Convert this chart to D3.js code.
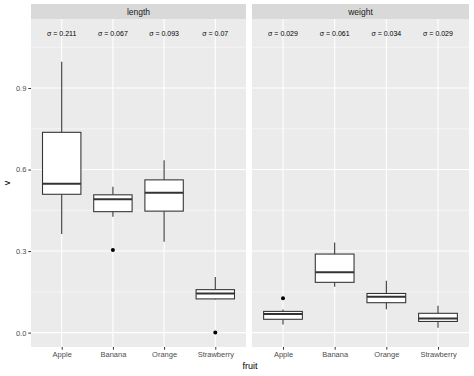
<!DOCTYPE html>
<html>
<head>
<meta charset="utf-8">
<script src="https://cdn.jsdelivr.net/npm/d3@7"></script>
<style>
  body { margin: 0; background: #fff; }
  text { font-family: "Liberation Sans", Arial, sans-serif; }
</style>
</head>
<body>
<div id="chart"></div>
<script>
// data
const fruits = ['Apple', 'Banana', 'Orange', 'Strawberry'];
const variables = ['length', 'weight'];

// length: [whisker low, q1, median, q3, whisker high]
const lengthLow    = [0.363, 0.426, 0.334, 0.122];
const lengthQ1     = [0.509, 0.445, 0.447, 0.124];
const lengthMedian = [0.548, 0.491, 0.515, 0.144];
const lengthQ3     = [0.737, 0.507, 0.562, 0.158];
const lengthHigh   = [0.997, 0.537, 0.634, 0.205];
const lengthOutliers = [['Banana', 0.304], ['Strawberry', 0.0]];
const lengthSigma  = ['0.211', '0.067', '0.093', '0.07'];

const weightLow    = [0.030, 0.169, 0.086, 0.018];
const weightQ1     = [0.049, 0.185, 0.110, 0.041];
const weightMedian = [0.068, 0.222, 0.132, 0.052];
const weightQ3     = [0.078, 0.289, 0.144, 0.071];
const weightHigh   = [0.085, 0.332, 0.191, 0.099];
const weightOutliers = [['Apple', 0.126]];
const weightSigma  = ['0.029', '0.061', '0.034', '0.029'];

const yTicks = [0.0, 0.3, 0.6, 0.9];
const yMinor = [0.15, 0.45, 0.75, 1.05];
const sigmaY = 1.1;

const W = 474, H = 376;
const panelTop = 19, panelBottom = 347, stripTop = 4;
const panels = [
  { name: 'length', x0: 31, x1: 246, low: lengthLow, q1: lengthQ1, med: lengthMedian, q3: lengthQ3, high: lengthHigh, out: lengthOutliers, sigma: lengthSigma },
  { name: 'weight', x0: 252, x1: 469, low: weightLow, q1: weightQ1, med: weightMedian, q3: weightQ3, high: weightHigh, out: weightOutliers, sigma: weightSigma }
];

const svg = d3.select('#chart')
  .append('svg')
  .attr('width', W)
  .attr('height', H);

const yScale = d3.scaleLinear()
  .domain([-0.053, 1.154])
  .range([panelBottom, panelTop]);

panels.forEach((p, pi) => {
  const xScale = d3.scalePoint()
    .domain(fruits)
    .range([p.x0, p.x1])
    .padding(0.6);
  const boxW = xScale.step() * 0.75;

  const g = svg.append('g');

  // strip
  g.append('rect')
    .attr('x', p.x0).attr('y', stripTop)
    .attr('width', p.x1 - p.x0).attr('height', panelTop - stripTop)
    .attr('fill', '#D9D9D9');
  g.append('text')
    .attr('x', (p.x0 + p.x1) / 2).attr('y', (stripTop + panelTop) / 2 + 3)
    .attr('text-anchor', 'middle')
    .attr('font-size', '8.5px')
    .attr('fill', '#1A1A1A')
    .text(p.name);

  // panel bg
  g.append('rect')
    .attr('x', p.x0).attr('y', panelTop)
    .attr('width', p.x1 - p.x0).attr('height', panelBottom - panelTop)
    .attr('fill', '#EBEBEB');

  // grid
  g.selectAll('.minor')
    .data(yMinor)
    .enter().append('line')
    .attr('x1', p.x0).attr('x2', p.x1)
    .attr('y1', d => yScale(d)).attr('y2', d => yScale(d))
    .attr('stroke', '#fff').attr('stroke-width', 0.5);
  g.selectAll('.major')
    .data(yTicks)
    .enter().append('line')
    .attr('x1', p.x0).attr('x2', p.x1)
    .attr('y1', d => yScale(d)).attr('y2', d => yScale(d))
    .attr('stroke', '#fff').attr('stroke-width', 1.07);
  g.selectAll('.vgrid')
    .data(fruits)
    .enter().append('line')
    .attr('x1', d => xScale(d)).attr('x2', d => xScale(d))
    .attr('y1', panelTop).attr('y2', panelBottom)
    .attr('stroke', '#fff').attr('stroke-width', 1.07);

  // boxes
  const boxes = g.selectAll('.box')
    .data(fruits)
    .enter().append('g');
  boxes.append('line')
    .attr('x1', d => xScale(d)).attr('x2', d => xScale(d))
    .attr('y1', (d, i) => yScale(p.high[i])).attr('y2', (d, i) => yScale(p.q3[i]))
    .attr('stroke', '#333333').attr('stroke-width', 1.07);
  boxes.append('line')
    .attr('x1', d => xScale(d)).attr('x2', d => xScale(d))
    .attr('y1', (d, i) => yScale(p.q1[i])).attr('y2', (d, i) => yScale(p.low[i]))
    .attr('stroke', '#333333').attr('stroke-width', 1.07);
  boxes.append('rect')
    .attr('x', d => xScale(d) - boxW / 2)
    .attr('y', (d, i) => yScale(p.q3[i]))
    .attr('width', boxW)
    .attr('height', (d, i) => yScale(p.q1[i]) - yScale(p.q3[i]))
    .attr('fill', '#fff')
    .attr('stroke', '#333333').attr('stroke-width', 1.07);
  boxes.append('line')
    .attr('x1', d => xScale(d) - boxW / 2).attr('x2', d => xScale(d) + boxW / 2)
    .attr('y1', (d, i) => yScale(p.med[i])).attr('y2', (d, i) => yScale(p.med[i]))
    .attr('stroke', '#333333').attr('stroke-width', 2);

  g.selectAll('.outlier')
    .data(p.out)
    .enter().append('circle')
    .attr('cx', d => xScale(d[0]))
    .attr('cy', d => yScale(d[1]))
    .attr('r', 2)
    .attr('fill', '#000');

  // sigma labels
  g.selectAll('.sigma')
    .data(fruits)
    .enter().append('text')
    .attr('x', d => xScale(d))
    .attr('y', yScale(sigmaY) + 2.5)
    .attr('text-anchor', 'middle')
    .attr('font-size', '7px')
    .attr('fill', '#000')
    .text((d, i) => 'σ = ' + p.sigma[i]);

  // x axis
  const xAxis = d3.axisBottom(xScale).tickSize(2.7).tickPadding(2);
  const ax = g.append('g')
    .attr('transform', `translate(0, ${panelBottom})`)
    .call(xAxis);
  ax.select('.domain').remove();
  ax.selectAll('line').attr('stroke', '#333333');
  ax.selectAll('text')
    .attr('font-size', '7.5px')
    .attr('fill', '#4D4D4D')
    .style('font-family', '"Liberation Sans", Arial, sans-serif');

  // y axis only on first panel
  if (pi === 0) {
    const yAxis = d3.axisLeft(yScale)
      .tickValues(yTicks)
      .tickFormat(d3.format('.1f'))
      .tickSize(2.7).tickPadding(2);
    const ay = g.append('g')
      .attr('transform', `translate(${p.x0}, 0)`)
      .call(yAxis);
    ay.select('.domain').remove();
    ay.selectAll('line').attr('stroke', '#333333');
    ay.selectAll('text')
      .attr('font-size', '7.5px')
      .attr('fill', '#4D4D4D')
      .style('font-family', '"Liberation Sans", Arial, sans-serif');
  }
});

// axis titles
svg.append('text')
  .attr('x', (panels[0].x0 + panels[1].x1) / 2)
  .attr('y', 369)
  .attr('text-anchor', 'middle')
  .attr('font-size', '9px')
  .attr('fill', '#000')
  .text('fruit');

svg.append('text')
  .attr('transform', `translate(10, ${(panelTop + panelBottom) / 2}) rotate(-90)`)
  .attr('text-anchor', 'middle')
  .attr('font-size', '9px')
  .attr('fill', '#000')
  .text('v');
</script>
</body>
</html>
